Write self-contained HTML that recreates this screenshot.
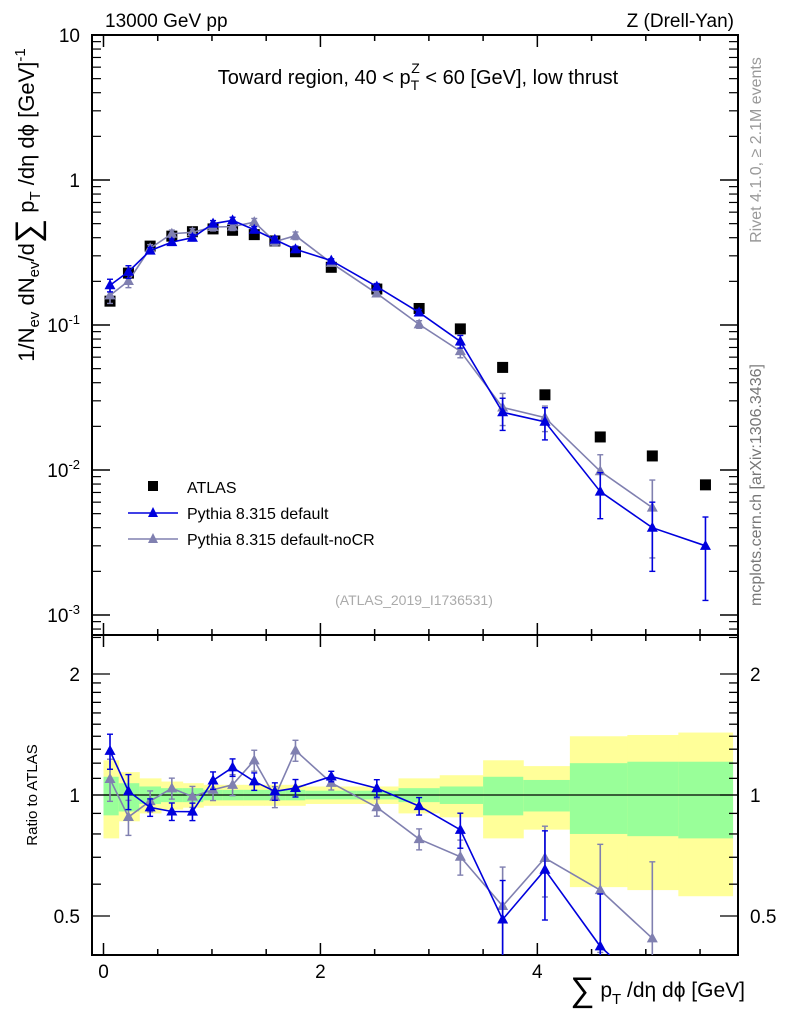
<!DOCTYPE html>
<html><head><meta charset="utf-8"><style>
html,body{margin:0;padding:0;background:#fff;overflow:hidden;width:786px;height:1024px;}
svg{display:block;}
svg text{font-family:"Liberation Sans",sans-serif;}
</style></head><body>
<svg id="c" width="786" height="1024" overflow="hidden" xmlns="http://www.w3.org/2000/svg">
<text x="105" y="27" font-size="19">13000 GeV pp</text>
<text x="734" y="27" font-size="19" text-anchor="end">Z (Drell-Yan)</text>
<text x="418" y="84" font-size="20" text-anchor="middle">Toward region, 40 &lt; p<tspan font-size="14" dy="6">T</tspan><tspan font-size="14" dx="-8" dy="-17">Z</tspan><tspan dy="11"> &lt; 60 [GeV], low thrust</tspan></text>
<text transform="translate(761,150) rotate(-90)" font-size="16" fill="#999" text-anchor="middle">Rivet 4.1.0, ≥ 2.1M events</text>
<text transform="translate(761,485) rotate(-90)" font-size="16" fill="#777" text-anchor="middle">mcplots.cern.ch [arXiv:1306.3436]</text>
<text x="414" y="605" font-size="14" fill="#aaa" text-anchor="middle">(ATLAS_2019_I1736531)</text>
<text transform="translate(34,205) rotate(-90)" font-size="22" text-anchor="middle">1/N<tspan font-size="15" dy="5">ev</tspan><tspan dy="-5"> dN</tspan><tspan font-size="15" dy="5">ev</tspan><tspan dy="-5">/d</tspan><tspan font-size="34" dy="5">∑</tspan><tspan dy="-5"> p</tspan><tspan font-size="15" dy="6">T</tspan><tspan dy="-6"> /dη dϕ  [GeV]</tspan><tspan font-size="15" dy="-9">-1</tspan></text>
<text transform="translate(37,795) rotate(-90)" font-size="15" text-anchor="middle">Ratio to ATLAS</text>
<text x="745" y="997" font-size="21" text-anchor="end"><tspan font-size="34" dy="4">∑</tspan><tspan dy="-4"> p</tspan><tspan font-size="15" dy="7">T</tspan><tspan dy="-7"> /dη dϕ [GeV]</tspan></text>
<g id="legend">
<rect x="148" y="481" width="10" height="10" fill="#000"/>
<text x="187" y="493" font-size="16">ATLAS</text>
<line x1="128" y1="513" x2="178" y2="513" stroke="#0000dd" stroke-width="1.5"/>
<path d="M153,507 L158,517 L148,517Z" fill="#0000dd"/>
<text x="187" y="519" font-size="16">Pythia 8.315 default</text>
<line x1="128" y1="539" x2="178" y2="539" stroke="#8080b0" stroke-width="1.5"/>
<path d="M153,533 L158,543 L148,543Z" fill="#8080b0"/>
<text x="187" y="545" font-size="16">Pythia 8.315 default-noCR</text>
</g>
</svg>
<script>
const centers=[0.06,0.23,0.43,0.63,0.82,1.01,1.19,1.39,1.58,1.77,2.10,2.52,2.91,3.29,3.68,4.07,4.58,5.06,5.55];
const edges=[0,0.14,0.33,0.53,0.73,0.92,1.1,1.29,1.48,1.68,1.86,2.33,2.72,3.1,3.5,3.87,4.3,4.83,5.3,5.8];
const atlas=[0.146,0.228,0.35,0.41,0.44,0.46,0.45,0.42,0.38,0.32,0.25,0.177,0.13,0.094,0.051,0.033,0.0169,0.0125,0.0079];
const pyDefault=[0.188,0.233,0.326,0.373,0.40,0.50,0.527,0.454,0.388,0.333,0.278,0.184,0.122,0.077,0.025,0.0215,0.0071,0.0040,0.0030];
const pyDefaultErr=[0.1,0.1,0.05,0.05,0.05,0.05,0.05,0.05,0.05,0.05,0.03,0.05,0.05,0.1,0.25,0.25,0.35,0.5,0.58];
const pyNoCR=[0.160,0.201,0.338,0.426,0.436,0.474,0.477,0.512,0.376,0.413,0.268,0.165,0.101,0.066,0.027,0.023,0.0098,0.0055];
const pyNoCRErr=[0.12,0.1,0.06,0.06,0.06,0.06,0.06,0.06,0.06,0.06,0.04,0.05,0.06,0.1,0.25,0.2,0.3,0.55];
const totHi=[1.22,1.14,1.10,1.08,1.07,1.06,1.06,1.06,1.06,1.06,1.05,1.05,1.10,1.12,1.22,1.18,1.40,1.41,1.43];
const totLo=[0.78,0.86,0.90,0.92,0.93,0.94,0.94,0.94,0.94,0.94,0.95,0.95,0.90,0.88,0.78,0.82,0.59,0.58,0.56];
const statHi=[1.11,1.07,1.05,1.04,1.04,1.03,1.03,1.03,1.03,1.03,1.025,1.025,1.04,1.05,1.11,1.09,1.20,1.21,1.21];
const statLo=[0.89,0.91,0.95,0.96,0.96,0.97,0.97,0.97,0.97,0.97,0.975,0.975,0.96,0.95,0.89,0.91,0.80,0.79,0.78];
const xTicks=[0,2,4];
const mainYTicks=[-3,-2,-1,0,1];
const ratioTicks=[0.5,1,2];

const L=92,R=738,T=35,MB=635,RB=955;
const X=v=>L+(v+0.106)/(5.85+0.106)*(R-L);
const Y=v=>T+(1-Math.log10(v))*145;
const RY=v=>795-Math.log10(v)*402;
const clampR=y=>Math.min(Math.max(y,MB),RB);
const svg=document.getElementById('c');
const NS='http://www.w3.org/2000/svg';
function mk(tag,attrs,parent){const e=document.createElementNS(NS,tag);for(const k in attrs)e.setAttribute(k,attrs[k]);(parent||svg).appendChild(e);return e;}

const bands=mk('g',{});


for(let i=0;i<centers.length;i++){
 const r1=mk('rect',{x:X(edges[i]),width:X(edges[i+1])-X(edges[i])+0.5,y:Math.max(RY(totHi[i]),MB),height:Math.min(RY(totLo[i]),RB)-Math.max(RY(totHi[i]),MB),fill:'#ffff99'},bands);
 
 
 const r2=mk('rect',{x:X(edges[i]),width:X(edges[i+1])-X(edges[i])+0.5,y:RY(statHi[i]),height:RY(statLo[i])-RY(statHi[i]),fill:'#99ff99'},bands);
 
 
}
const ul=mk('line',{x1:L,x2:R,y1:RY(1),y2:RY(1),stroke:'#000','stroke-width':1.2});



const f1=mk('rect',{x:L,y:T,width:R-L,height:MB-T,fill:'none',stroke:'#000','stroke-width':2});


const f2=mk('rect',{x:L,y:MB,width:R-L,height:RB-MB,fill:'none',stroke:'#000','stroke-width':2});



for(let v=0;v<=5.5;v+=0.5){
 const major=xTicks.includes(v);const len=major?12:6;
 [T,MB].forEach(top=>mk('line',{x1:X(v),x2:X(v),y1:top,y2:top+len,stroke:'#000','stroke-width':1.5}));
 [MB,RB].forEach(bot=>mk('line',{x1:X(v),x2:X(v),y1:bot,y2:bot-len,stroke:'#000','stroke-width':1.5}));
}
xTicks.forEach(v=>{const t=mk('text',{x:X(v),y:978,'font-size':19,'text-anchor':'middle'});t.textContent=v;
 
 });

mainYTicks.forEach(p=>{
 [L,R].forEach((xx,s)=>{const d=s?-1:1;
  mk('line',{x1:xx,x2:xx+d*18,y1:Y(10**p),y2:Y(10**p),stroke:'#000','stroke-width':1.5});
  if(p<1)for(let m=2;m<=9;m++)mk('line',{x1:xx,x2:xx+d*9,y1:Y(m*10**p),y2:Y(m*10**p),stroke:'#000','stroke-width':1.2});
 });
 const t=mk('text',{x:80,y:Y(10**p)+7,'font-size':19,'text-anchor':'end'});
 
 
 if(p===1)t.textContent='10';else if(p===0)t.textContent='1';
 else{t.textContent='10';const s=mk('tspan',{'font-size':13,dy:-8},t);s.textContent=String(p);}
});
for(let m=7;m<=9;m++)[L,R].forEach((xx,s)=>mk('line',{x1:xx,x2:xx+(s?-9:9),y1:Y(m*1e-4),y2:Y(m*1e-4),stroke:'#000','stroke-width':1.2}));
[0.4,0.5,0.6,0.7,0.8,0.9,1,1.1,1.2,1.3,1.4,1.5,1.6,1.7,1.8,1.9,2,2.5].forEach(v=>{
 if(RY(v)<MB||RY(v)>RB)return;const major=ratioTicks.includes(v);
 [L,R].forEach((xx,s)=>mk('line',{x1:xx,x2:xx+(s?-1:1)*(major?18:9),y1:RY(v),y2:RY(v),stroke:'#000','stroke-width':1.3}));
});
ratioTicks.forEach(v=>{[[80,'end'],[750,'start']].forEach(([xx,a])=>{const t=mk('text',{x:xx,y:RY(v)+7,'font-size':19,'text-anchor':a});t.textContent=v;
 
 });});

const defs=mk('defs',{});
const cp=mk('clipPath',{id:'rc'},defs);mk('rect',{x:L,y:MB,width:R-L,height:RB-MB},cp);

function series(vals,errs,col,name){
 const g=mk('g',{});
 
 
 const rg=mk('g',{'clip-path':'url(#rc)'});
 
 
 let pm='';
 vals.forEach((v,i)=>{pm+=(i?'L':'M')+X(centers[i])+','+Y(v);});
 mk('path',{d:pm,fill:'none',stroke:col,'stroke-width':1.6},g);
 // ratio line, cut where it leaves the panel
 let pr='';
 for(let i=0;i<vals.length;i++){
  const x=X(centers[i]),y=RY(vals[i]/atlas[i]);
  if(i===0){pr='M'+x+','+clampR(y);continue;}
  const xp=X(centers[i-1]),yp=RY(vals[i-1]/atlas[i-1]);
  if(yp>RB)break;
  if(y>RB){const f=(RB-yp)/(y-yp);pr+='L'+(xp+f*(x-xp))+','+RB;break;}
  pr+='L'+x+','+y;
 }
 mk('path',{d:pr,fill:'none',stroke:col,'stroke-width':1.6},rg);
 vals.forEach((v,i)=>{
  const x=X(centers[i]);const e=errs[i];
  const items=[[g,Y(v),Y(v*(1+e)),Y(Math.max(v*(1-e),1e-5)),false,false]];
  const rr=v/atlas[i];
  if(RY(rr)<=RB){const a=RY(rr*(1+e)),b=RY(rr*(1-e));items.push([rg,RY(rr),clampR(a),clampR(b),a<MB,b>RB]);}
  items.forEach(([par,yc,y1,y2,c1,c2])=>{
   mk('line',{x1:x,x2:x,y1:y1,y2:y2,stroke:col,'stroke-width':1.6},par);
   if(!c1)mk('line',{x1:x-3,x2:x+3,y1:y1,y2:y1,stroke:col,'stroke-width':1.4},par);
   if(!c2)mk('line',{x1:x-3,x2:x+3,y1:y2,y2:y2,stroke:col,'stroke-width':1.4},par);
   const m=mk('path',{d:`M${x},${yc-6}L${x+5.5},${Math.min(yc+4,RB)}L${x-5.5},${Math.min(yc+4,RB)}Z`,fill:col},par);
   
   
  });
 });
}
const ag=mk('g',{});


atlas.forEach((v,i)=>{const s=mk('rect',{x:X(centers[i])-5.5,y:Y(v)-5.5,width:11,height:11,fill:'#000'},ag);
 
 });
series(pyNoCR,pyNoCRErr,'#8080b0','pythia-nocr');
series(pyDefault,pyDefaultErr,'#0000dd','pythia-default');
</script>
</body></html>
